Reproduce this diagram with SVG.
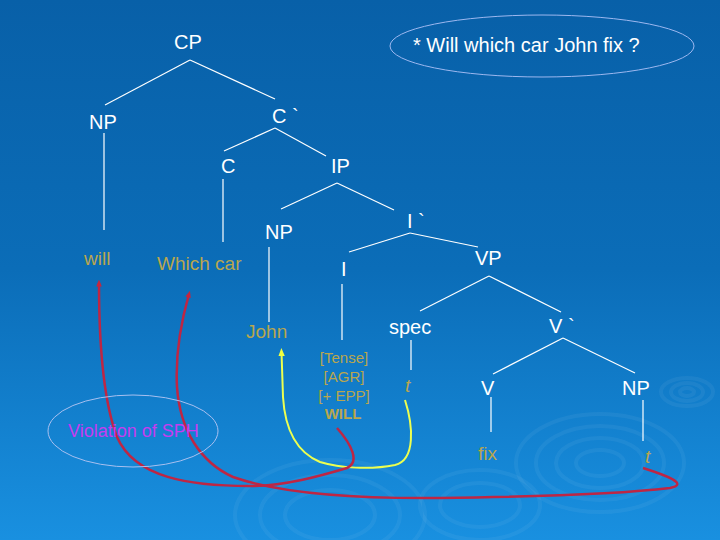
<svg xmlns="http://www.w3.org/2000/svg" width="720" height="540" viewBox="0 0 720 540">
<defs>
<linearGradient id="bg" x1="0" y1="0" x2="0" y2="1">
<stop offset="0" stop-color="#0860A8"/>
<stop offset="0.5" stop-color="#0B6DB8"/>
<stop offset="1" stop-color="#1990E0"/>
</linearGradient>
<marker id="arR" viewBox="0 0 10 10" refX="5" refY="5" markerWidth="7" markerHeight="7" markerUnits="userSpaceOnUse" orient="auto">
<path d="M0,1 L10,5 L0,9 Z" fill="#C42640"/>
</marker>
<marker id="arY" viewBox="0 0 10 10" refX="5" refY="5" markerWidth="8" markerHeight="8" markerUnits="userSpaceOnUse" orient="auto">
<path d="M0,1 L10,5 L0,9 Z" fill="#F0FF40"/>
</marker>
<style>
.n{font-family:"Liberation Sans",Arial,sans-serif;font-size:20px;fill:#FFFFFF}
.lf{font-family:"Liberation Sans",Arial,sans-serif;font-size:19px;fill:#B9A64E}
.ft{font-family:"Liberation Sans",Arial,sans-serif;font-size:15px;fill:#B9A64E;text-anchor:middle}
.tr{fill:none;stroke:#FFFFFF;stroke-width:1.2}
.rd{fill:none;stroke:#BE2644;stroke-width:2.5}
.yl{fill:none;stroke:#ECFF50;stroke-width:2}
.rp{fill:none;stroke:#FFFFFF;stroke-opacity:0.05;stroke-width:4}
</style>
</defs>
<rect x="0" y="0" width="720" height="540" fill="url(#bg)"/>
<g id="ripples">
<ellipse class="rp" cx="600" cy="463" rx="84" ry="49"/>
<ellipse class="rp" cx="600" cy="463" rx="64" ry="37"/>
<ellipse class="rp" cx="600" cy="463" rx="44" ry="25"/>
<ellipse class="rp" cx="600" cy="463" rx="24" ry="13"/>
<ellipse class="rp" cx="687" cy="392" rx="26" ry="14"/>
<ellipse class="rp" cx="687" cy="392" rx="16" ry="9"/>
<ellipse class="rp" cx="687" cy="392" rx="7" ry="4"/>
<ellipse class="rp" cx="480" cy="505" rx="60" ry="35"/>
<ellipse class="rp" cx="480" cy="505" rx="40" ry="22"/>
<ellipse class="rp" cx="330" cy="515" rx="95" ry="55"/>
<ellipse class="rp" cx="330" cy="515" rx="70" ry="40"/>
<ellipse class="rp" cx="330" cy="515" rx="45" ry="25"/>
</g>
<g id="connectors">
<line class="tr" x1="190" y1="60" x2="105" y2="105"/>
<line class="tr" x1="190" y1="60" x2="275" y2="99"/>
<line class="tr" x1="104" y1="133" x2="104" y2="230"/>
<line class="tr" x1="275" y1="128" x2="224" y2="151"/>
<line class="tr" x1="275" y1="128" x2="326" y2="156"/>
<line class="tr" x1="223" y1="179" x2="223" y2="242"/>
<line class="tr" x1="337" y1="183" x2="281" y2="209"/>
<line class="tr" x1="337" y1="183" x2="394" y2="210"/>
<line class="tr" x1="269" y1="247" x2="269" y2="322"/>
<line class="tr" x1="410" y1="233" x2="349" y2="252"/>
<line class="tr" x1="410" y1="233" x2="478" y2="247"/>
<line class="tr" x1="342" y1="284" x2="342" y2="340"/>
<line class="tr" x1="489" y1="276" x2="420" y2="311"/>
<line class="tr" x1="489" y1="276" x2="561" y2="312"/>
<line class="tr" x1="411" y1="340" x2="411" y2="370"/>
<line class="tr" x1="563" y1="338" x2="493" y2="374"/>
<line class="tr" x1="563" y1="338" x2="635" y2="373"/>
<line class="tr" x1="491" y1="397" x2="491" y2="432"/>
<line class="tr" x1="643" y1="400" x2="643" y2="441"/>
<path class="yl" marker-end="url(#arY)" d="M405,400 C413,425 416,460 395,465 C370,470 340,468 320,462 C296,452 285,430 283,397 L281.5,352"/>
<path class="rd" marker-end="url(#arR)" d="M337,428 C352,445 360,462 347,468 C320,476 285,486 250,486 C190,486 135,478 117,437 C103,400 99,340 99,283"/>
<path class="rd" marker-end="url(#arR)" d="M643,468 C665,475 690,484 670,488 C620,494 520,497 440,498 C330,499 270,490 233,477 C200,462 180,430 177,387 C175,350 183,315 189,294"/>
</g>
<g id="note-question">
<ellipse cx="542" cy="46" rx="152" ry="31" fill="none" stroke="#9DB8F0" stroke-width="1"/>
<text class="n" x="413" y="52">* Will which car John fix ?</text>
</g>
<g id="note-sph">
<ellipse cx="133" cy="431" rx="85" ry="36" fill="none" stroke="#A8C0F0" stroke-width="1"/>
<text x="68" y="437" font-family="Liberation Sans, Arial, sans-serif" font-size="18" fill="#C63CF0">Violation of SPH</text>
</g>
<g id="n-CP"><text class="n" x="174" y="49">CP</text></g>
<g id="n-NP1"><text class="n" x="89" y="129">NP</text></g>
<g id="n-Cbar"><text class="n" x="272" y="123">C `</text></g>
<g id="n-C"><text class="n" x="221" y="173">C</text></g>
<g id="n-IP"><text class="n" x="331" y="173">IP</text></g>
<g id="n-NP2"><text class="n" x="265" y="239">NP</text></g>
<g id="n-Ibar"><text class="n" x="407" y="228">I `</text></g>
<g id="n-will"><text class="lf" x="84" y="265">will</text></g>
<g id="n-whichcar"><text class="lf" x="157" y="270" font-size="20">Which car</text></g>
<g id="n-I"><text class="n" x="341" y="276">I</text></g>
<g id="n-VP"><text class="n" x="475" y="265">VP</text></g>
<g id="n-John"><text class="lf" x="246" y="338">John</text></g>
<g id="n-spec"><text class="n" x="389" y="334">spec</text></g>
<g id="n-Vbar"><text class="n" x="549" y="333">V `</text></g>
<g id="n-features">
<text class="ft" x="344" y="363">[Tense]</text>
<text class="ft" x="344" y="382">[AGR]</text>
<text class="ft" x="344" y="401">[+ EPP]</text>
<text class="ft" x="343" y="419" font-weight="bold" fill="#C9AA35">WILL</text>
</g>
<g id="n-t1"><text class="lf" x="405" y="392" font-style="italic">t</text></g>
<g id="n-V"><text class="n" x="481" y="395">V</text></g>
<g id="n-NP3"><text class="n" x="622" y="395">NP</text></g>
<g id="n-fix"><text class="lf" x="478" y="460">fix</text></g>
<g id="n-t2"><text class="lf" x="645" y="463" font-style="italic">t</text></g>
</svg>
